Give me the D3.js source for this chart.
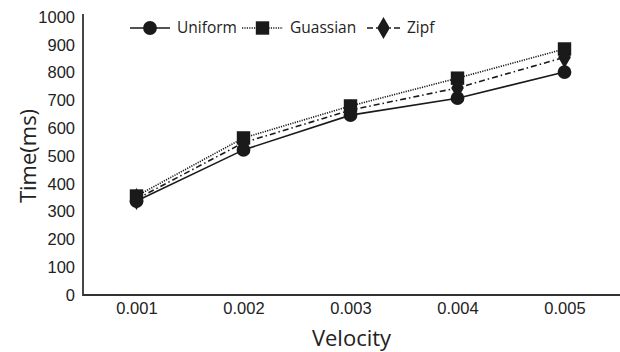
<!DOCTYPE html>
<html>
<head>
<meta charset="utf-8">
<script src="https://cdn.jsdelivr.net/npm/d3@7"></script>
<style>
  body { margin: 0; background: #fff; }
  svg { font-family: "Open Sans", "Noto Sans", sans-serif; }
</style>
</head>
<body>
<svg width="620" height="352"></svg>
<script>
const velocities = ['0.001', '0.002', '0.003', '0.004', '0.005'];
const uniform  = [338, 522, 647, 708, 802];
const guassian = [356, 565, 680, 780, 885];
const zipf     = [345, 548, 665, 745, 855];
const yTicks = [0, 100, 200, 300, 400, 500, 600, 700, 800, 900, 1000];

const series = [
  {name: 'Uniform',  values: uniform,  dash: null,        shape: d3.symbolCircle,  size: 150},
  {name: 'Guassian', values: guassian, dash: '1.2,1.2',   shape: d3.symbolSquare,  size: 180},
  {name: 'Zipf',     values: zipf,     dash: '6,3,1.5,3', shape: d3.symbolDiamond, size: 140}
];

const svg = d3.select('svg');
const mLeft = 83, mRight = 618, mTop = 17, mBottom = 295;

const x = d3.scalePoint().domain(velocities).range([mLeft, mRight]).padding(0.5);
const y = d3.scaleLinear().domain([0, 1000]).range([mBottom, mTop]);

// axes
const yAxis = svg.append('g')
  .attr('transform', 'translate(' + mLeft + ',0)')
  .call(d3.axisLeft(y).tickValues(yTicks).tickFormat(d3.format('d')).tickSize(0).tickPadding(8));
yAxis.select('.domain').attr('stroke', '#333').attr('stroke-width', 1.8)
  .attr('d', 'M0,' + (mTop - 3) + 'V' + (mBottom + 1));
yAxis.selectAll('text').attr('font-size', 16.5).attr('fill', '#222');

const xAxis = svg.append('g')
  .attr('transform', 'translate(0,' + mBottom + ')')
  .call(d3.axisBottom(x).tickSize(0).tickPadding(7));
xAxis.select('.domain').attr('stroke', '#333').attr('stroke-width', 1.8)
  .attr('d', 'M' + mLeft + ',0H620');
xAxis.selectAll('text').attr('font-size', 16.5).attr('fill', '#222');

svg.append('text')
  .attr('transform', 'translate(28,' + ((mTop + mBottom) / 2) + ') rotate(-90)')
  .attr('text-anchor', 'middle').attr('dy', '0.35em')
  .attr('font-size', 22).attr('fill', '#222')
  .text('Time(ms)');

svg.append('text')
  .attr('x', (mLeft + 620) / 2).attr('y', 346)
  .attr('text-anchor', 'middle')
  .attr('font-size', 22).attr('fill', '#222')
  .text('Velocity');

// lines
const line = d3.line().x((d, i) => x(velocities[i])).y(d => y(d));
series.forEach(s => {
  svg.append('path')
    .attr('d', line(s.values))
    .attr('fill', 'none')
    .attr('stroke', '#1a1a1a')
    .attr('stroke-width', 1.6)
    .attr('stroke-dasharray', s.dash);
});
series.forEach(s => {
  svg.append('g').selectAll('path')
    .data(s.values)
    .enter()
    .append('path')
    .attr('transform', (d, i) => 'translate(' + x(velocities[i]) + ',' + y(d) + ')')
    .attr('d', d3.symbol().type(s.shape).size(s.size))
    .attr('fill', '#1a1a1a');
});

// legend
const legendX = [130, 242, 367];
const legendW = [40, 41, 33];
const legend = svg.append('g').selectAll('g')
  .data(series)
  .enter()
  .append('g')
  .attr('transform', (d, i) => 'translate(' + legendX[i] + ',28)');
legend.append('line')
  .attr('x1', 0).attr('x2', (d, i) => legendW[i])
  .attr('stroke', '#1a1a1a').attr('stroke-width', 1.6)
  .attr('stroke-dasharray', d => d.dash);
legend.append('path')
  .attr('transform', (d, i) => 'translate(' + (legendW[i] / 2) + ',0)')
  .attr('d', d => d3.symbol().type(d.shape).size(d.size)())
  .attr('fill', '#1a1a1a');
legend.append('text')
  .attr('x', (d, i) => legendW[i] + 7)
  .attr('dy', '0.35em')
  .attr('font-size', 15.5).attr('fill', '#222')
  .text(d => d.name);
</script>
</body>
</html>
